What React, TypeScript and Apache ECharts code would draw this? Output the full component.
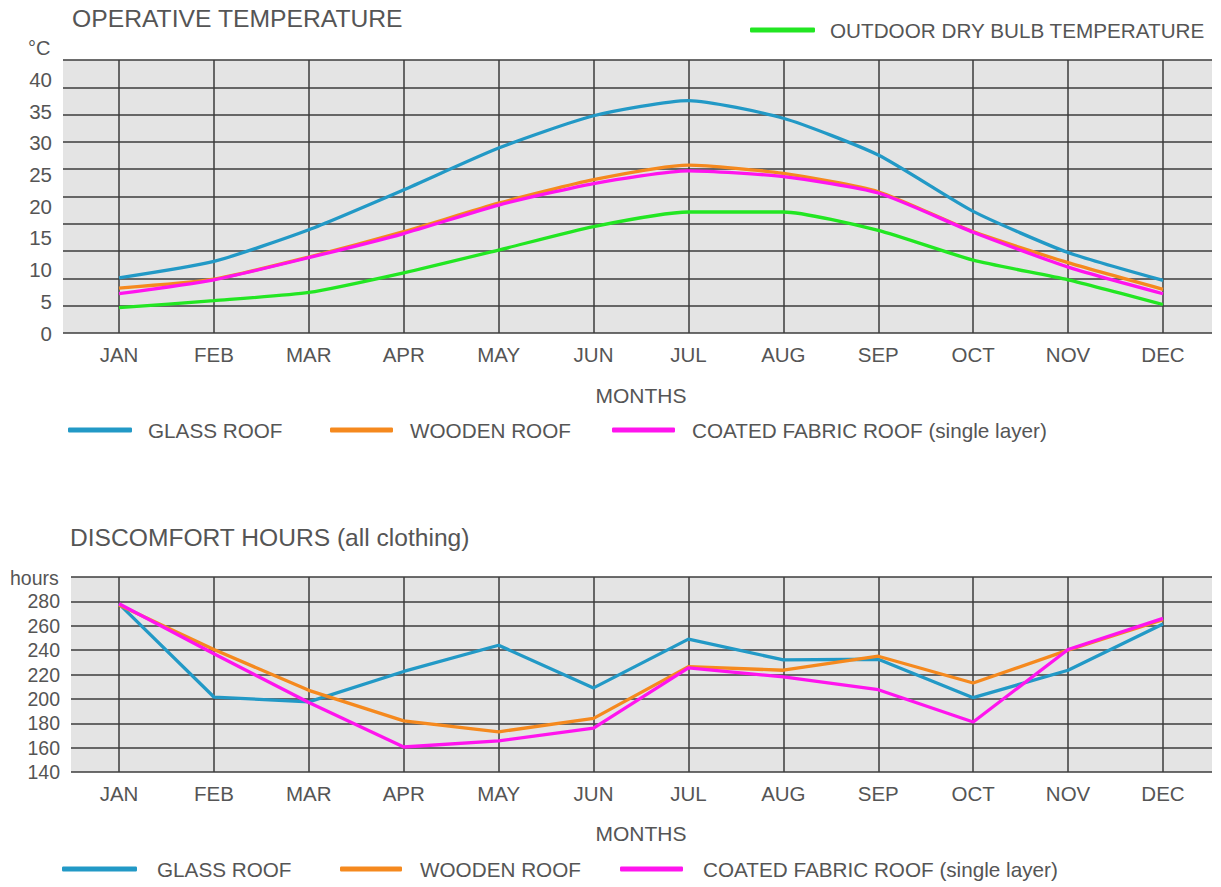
import React, { useEffect, useRef } from 'react';
import * as echarts from 'echarts';

const MONTHS = ['JAN', 'FEB', 'MAR', 'APR', 'MAY', 'JUN', 'JUL', 'AUG', 'SEP', 'OCT', 'NOV', 'DEC'];

// Operative temperature (°C), read against the printed tick labels
const TEMP_GLASS = [8.7, 11.3, 16.3, 22.6, 29.2, 34.3, 36.7, 33.9, 28.1, 19.2, 12.7, 8.3];
const TEMP_WOODEN = [7.1, 8.5, 12.0, 16.0, 20.5, 24.2, 26.5, 25.2, 22.3, 16.0, 11.1, 6.9];
const TEMP_FABRIC = [6.2, 8.4, 11.9, 15.7, 20.2, 23.6, 25.6, 24.7, 22.1, 15.9, 10.4, 6.2];
const TEMP_OUTDOOR = [4.0, 5.1, 6.4, 9.5, 13.1, 16.8, 19.1, 19.1, 16.2, 11.5, 8.4, 4.5];
const TEMP_TICKS_MAX = 43.1;

// Discomfort hours
const HOURS_GLASS = [278, 201.5, 197.5, 222.5, 244, 209, 249, 232, 232.5, 201, 223.5, 261.5];
const HOURS_WOODEN = [277, 240.5, 207, 182, 173, 184, 226.5, 223.5, 235, 213, 240, 265];
const HOURS_FABRIC = [278, 237, 197, 160.5, 165.5, 176, 225.5, 218, 207.5, 181, 240.5, 266];

const FONT = '"Liberation Sans", Arial, sans-serif';
const TEXT = '#555555';
const GRID_LINE = '#3d3d3d';
const BG = '#e4e4e4';
const C_GLASS = '#2299c6';
const C_WOOD = '#f5891e';
const C_FABRIC = '#ff14ee';
const C_OUT = '#22e622';

function legendItem(name: string, left: number, top: number, color: string, iconW: number, gap: number) {
  return {
    show: true,
    data: [{ name, icon: 'roundRect', itemStyle: { color } }],
    left,
    top,
    orient: 'horizontal',
    padding: 0,
    itemWidth: iconW,
    itemHeight: 5,
    selectedMode: false,
    textStyle: { fontFamily: FONT, fontSize: 20.7, color: TEXT, lineHeight: 22, padding: [0, 0, 0, gap] },
  };
}

function lineSeries(name: string, data: number[], color: string, axis: number, smooth: number | boolean) {
  return {
    name,
    type: 'line',
    xAxisIndex: axis,
    yAxisIndex: axis,
    data,
    symbol: 'none',
    showSymbol: false,
    smooth,
    lineStyle: { width: 3.3, color },
    itemStyle: { color },
  };
}

const catAxis = (gridIndex: number, nameGap: number) => ({
  gridIndex,
  type: 'category',
  data: MONTHS,
  boundaryGap: false,
  axisLine: { show: false },
  axisTick: { show: false },
  splitLine: { show: true, lineStyle: { color: GRID_LINE, width: 1.5 } },
  axisLabel: { interval: 0, fontFamily: FONT, fontSize: 20.5, color: TEXT, margin: 11 },
  name: 'MONTHS',
  nameLocation: 'middle',
  nameGap,
  nameTextStyle: { fontFamily: FONT, fontSize: 21, color: TEXT },
});

export default function App() {
  const ref = useRef<HTMLDivElement>(null);

  useEffect(() => {
    if (!ref.current) return;
    const chart = echarts.init(ref.current, undefined, { renderer: 'svg' });
    chart.setOption({
      animation: false,
      backgroundColor: '#ffffff',
      grid: [
        { left: 63, top: 60, width: 1149, height: 273, show: true, backgroundColor: BG, borderWidth: 0 },
        { left: 119, top: 60, width: 1044, height: 273, show: false },
        { left: 71, top: 577, width: 1141, height: 195, show: true, backgroundColor: BG, borderWidth: 0 },
        { left: 119, top: 577, width: 1044, height: 195, show: false },
      ],
      xAxis: [
        { gridIndex: 0, type: 'value', min: 0, max: 1, show: false },
        catAxis(1, 52),
        { gridIndex: 2, type: 'value', min: 0, max: 1, show: false },
        catAxis(3, 51),
      ],
      yAxis: [
        // ten equal horizontal rulings of the upper panel
        {
          gridIndex: 0,
          type: 'value',
          min: 0,
          max: 10,
          interval: 1,
          axisLine: { show: false },
          axisTick: { show: false },
          axisLabel: { show: false },
          splitLine: { show: true, lineStyle: { color: GRID_LINE, width: 1.5 } },
        },
        // temperature scale with its printed labels
        {
          gridIndex: 1,
          type: 'value',
          min: 0,
          max: TEMP_TICKS_MAX,
          interval: 5,
          axisLine: { show: false },
          axisTick: { show: false },
          splitLine: { show: false },
          axisLabel: {
            fontFamily: FONT,
            fontSize: 20.5,
            color: TEXT,
            margin: 67,
            formatter: (v: number) => (v % 5 === 0 ? String(v) : ''),
          },
        },
        {
          gridIndex: 2,
          type: 'value',
          min: 140,
          max: 300,
          interval: 20,
          axisLine: { show: false },
          axisTick: { show: false },
          splitLine: { show: true, lineStyle: { color: GRID_LINE, width: 1.5 } },
          axisLabel: {
            fontFamily: FONT,
            fontSize: 19.5,
            color: TEXT,
            margin: 11,
            formatter: (v: number) => (v === 300 ? '' : String(v)),
          },
        },
        { gridIndex: 3, type: 'value', min: 140, max: 300, show: false },
      ],
      legend: [
        legendItem('OUTDOOR DRY BULB TEMPERATURE', 750, 19, C_OUT, 65, 10),
        legendItem('GLASS ROOF', 68, 419, C_GLASS, 64, 11),
        legendItem('WOODEN ROOF', 330, 419, C_WOOD, 63, 12),
        legendItem('COATED FABRIC ROOF (single layer)', 612, 419, C_FABRIC, 63, 12),
        legendItem('GLASS ROOF', 62, 858, C_GLASS, 75, 15),
        legendItem('WOODEN ROOF', 340, 858, C_WOOD, 62, 13),
        legendItem('COATED FABRIC ROOF (single layer)', 620, 858, C_FABRIC, 63, 15),
      ],
      graphic: [
        { type: 'text', x: 72, y: 18, style: { text: 'OPERATIVE TEMPERATURE', fill: TEXT, font: `24.7px ${FONT}`, verticalAlign: 'middle' } },
        { type: 'text', x: 28, y: 48, style: { text: '°C', fill: TEXT, font: `20px ${FONT}`, verticalAlign: 'middle' } },
        { type: 'text', x: 70, y: 537, style: { text: 'DISCOMFORT HOURS (all clothing)', fill: TEXT, font: `24.6px ${FONT}`, verticalAlign: 'middle' } },
        { type: 'text', x: 10, y: 578, style: { text: 'hours', fill: TEXT, font: `19.5px ${FONT}`, verticalAlign: 'middle' } },
      ],
      series: [
        lineSeries('OUTDOOR DRY BULB TEMPERATURE', TEMP_OUTDOOR, C_OUT, 1, 0.2),
        lineSeries('GLASS ROOF', TEMP_GLASS, C_GLASS, 1, 0.2),
        lineSeries('WOODEN ROOF', TEMP_WOODEN, C_WOOD, 1, 0.2),
        lineSeries('COATED FABRIC ROOF (single layer)', TEMP_FABRIC, C_FABRIC, 1, 0.2),
        lineSeries('GLASS ROOF', HOURS_GLASS, C_GLASS, 3, false),
        lineSeries('WOODEN ROOF', HOURS_WOODEN, C_WOOD, 3, false),
        lineSeries('COATED FABRIC ROOF (single layer)', HOURS_FABRIC, C_FABRIC, 3, false),
      ],
    });
    return () => chart.dispose();
  }, []);

  return (
    <div
      ref={ref}
      style={{ position: 'absolute', left: 0, top: 0, width: 1221, height: 887, background: '#fff' }}
    />
  );
}
